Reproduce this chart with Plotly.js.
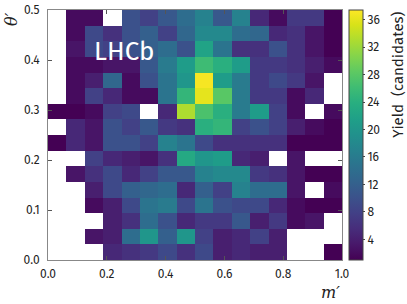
<!DOCTYPE html>
<html><head><meta charset="utf-8">
<script src="https://cdn.plot.ly/plotly-3.0.1.min.js"></script>
<style>html,body{margin:0;padding:0;background:#fff}#c{width:407px;height:304px}</style>
</head><body><div id="c"></div>
<script>
// bin edges
const xEdges = [0,0.0625,0.125,0.1875,0.25,0.3125,0.375,0.4375,0.5,0.5625,0.625,0.6875,0.75,0.8125,0.875,0.9375,1.0];
const yEdges = [0,0.03125,0.0625,0.09375,0.125,0.15625,0.1875,0.21875,0.25,0.28125,0.3125,0.34375,0.375,0.40625,0.4375,0.46875,0.5];
// yields, rows from bottom (theta'=0) to top
const row0  = [null,null,null,5,6,7,9,6, 9,4,5,4,4,null,null,1];
const row1  = [null,null,3,4,14,20,12,20, 8,4,5,8,4,null,null,null];
const row2  = [null,null,null,4,6,14,10,5, 7,7,11,4,7,2,3,null];
const row3  = [null,null,2,4,9,15,16,9, 15,10,9,9,5,2,1,1];
const row4  = [null,null,4,9,12,13,14,5, 12,8,17,14,14,3,null,2];
const row5  = [null,3,6,9,5,8,11,11, 17,18,18,7,6,3,1,1];
const row6  = [null,null,8,5,4,3,6,23, 20,21,5,4,null,3,null,null];
const row7  = [1,5,3,10,10,8,17,15, 9,6,6,6,6,1,1,1];
const row8  = [null,5,3,10,8,11,7,6, 24,25,8,10,8,4,2,1];
const row9  = [1,1,2,8,9,null,5,33, 27,24,16,21,8,2,null,2];
const row10 = [null,2,8,5,2,2,15,25, 36,28,16,7,7,2,5,null];
const row11 = [null,2,4,13,2,10,15,20, 37,21,16,7,9,7,3,null];
const row12 = [null,2,2,3,3,11,16,21, 26,24,21,7,7,6,4,2];
const row13 = [null,3,9,8,10,12,14,10, 22,15,6,6,10,6,3,1];
const row14 = [null,2,9,6,10,12,8,13, 18,18,14,13,5,6,3,1];
const row15 = [null,2,2,null,10,8,11,14, 17,11,17,5,2,7,7,1];
const zRows = [row0,row1,row2,row3,row4,row5,row6,row7,row8,row9,row10,row11,row12,row13,row14,row15];
const cbTicks = [4,8,12,16,20,24,28,32,36];
const xTicks = [0,0.2,0.4,0.6,0.8,1.0];
const yTicks = [0,0.1,0.2,0.3,0.4,0.5];

const F = '"Fira Sans","Noto Sans","Open Sans",sans-serif';
const trace = {
  type:'heatmap', x:xEdges, y:yEdges, z:zRows,
  colorscale:'Viridis', zmin:1, zmax:37.4, hoverinfo:'skip',
  colorbar:{x:1.0238, xanchor:'left', xpad:0, ypad:0, y:0.5, yanchor:'middle', len:1, lenmode:'fraction',
    thickness:14, outlinewidth:1, outlinecolor:'#444', tickvals:cbTicks, ticks:'outside', ticklen:2, tickcolor:'#444',
    tickfont:{family:F, size:12, color:'#222'}}
};
const ax = {showgrid:false, zeroline:false, showline:true, linecolor:'#888', linewidth:1, mirror:'ticks',
  ticks:'inside', ticklen:4, tickcolor:'#555', tickfont:{family:F, size:12, color:'#222'}};
const layout = {
  width:407, height:304, margin:{l:48, r:65, t:10, b:44},
  paper_bgcolor:'#fff', plot_bgcolor:'#fff', showlegend:false,
  xaxis:Object.assign({}, ax, {range:[0,1], tickvals:xTicks, tickformat:'.1f', ticklabelstandoff:3}),
  yaxis:Object.assign({}, ax, {range:[0,0.5], tickvals:yTicks, tickformat:'.1f', ticklabelstandoff:5}),
  annotations:[
    {xref:'paper', yref:'paper', x:0.258, y:0.836, text:'LHCb', showarrow:false,
     font:{family:F, size:26, color:'#fff'}, xanchor:'center', yanchor:'middle'},
    {xref:'paper', yref:'paper', x:1.0, y:-0.128, text:'<i>m′</i>', showarrow:false,
     font:{family:'DejaVu Serif, serif', size:16, color:'#222'}, xanchor:'right', yanchor:'middle'},
    {xref:'paper', yref:'paper', x:-0.126, y:1.0, text:'<i>θ′</i>', showarrow:false, textangle:-90,
     font:{family:'DejaVu Serif, serif', size:16, color:'#222'}, xanchor:'center', yanchor:'top'},
    {xref:'paper', yref:'paper', x:1.19, y:1.0, text:'Yield  (candidates)', showarrow:false, textangle:-90,
     font:{family:F, size:15, color:'#222'}, xanchor:'center', yanchor:'top'}
  ]
};
Plotly.newPlot('c', [trace], layout, {staticPlot:true, displayModeBar:false});
</script></body></html>
